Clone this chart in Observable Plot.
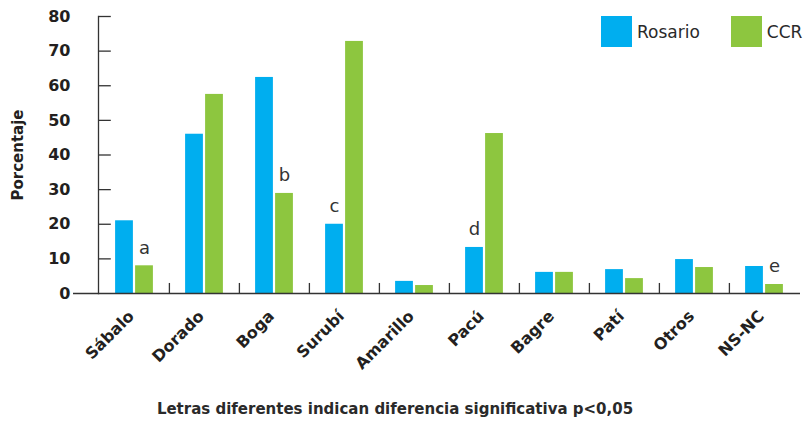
<!DOCTYPE html>
<html>
<head>
<meta charset="utf-8">
<script src="https://cdn.jsdelivr.net/npm/d3@7"></script>
<script src="https://cdn.jsdelivr.net/npm/@observablehq/plot@0.6"></script>
<style>
  body { margin: 0; background: #fff; font-family: "DejaVu Sans", sans-serif; }
  #wrap { position: relative; width: 806px; height: 421px; }
  #legend { position: absolute; top: 16px; left: 601px; display: flex; align-items: center; font-size: 17px; color: #2a2a2a; }
  .sw { width: 31px; height: 31px; display: inline-block; margin-right: 5px; }
  .item { display: flex; align-items: center; }
  #caption { text-align: center; font-size: 15px; font-weight: bold; color: #2a2a2a; width: 790px; margin-top: 5px; }
</style>
</head>
<body>
<div id="wrap">
  <div id="chart"></div>
  <div id="legend"></div>
  <div id="caption">Letras diferentes indican diferencia significativa p&lt;0,05</div>
</div>
<script>
const categories = ["Sábalo","Dorado","Boga","Surubí","Amarillo","Pacú","Bagre","Patí","Otros","NS-NC"];
const rosario = [21, 46, 62.4, 20, 3.5, 13.3, 6.1, 6.9, 9.8, 7.8];
const ccr = [8, 57.5, 28.9, 72.8, 2.3, 46.2, 6.1, 4.3, 7.5, 2.6];
const series = ["Rosario", "CCR"];
const colors = ["#00AEEF", "#8DC63F"];
const yTicks = [0, 10, 20, 30, 40, 50, 60, 70, 80];
const letterCats = ["Sábalo", "Boga", "Surubí", "Pacú", "NS-NC"];
const letterSeries = ["CCR", "CCR", "Rosario", "Rosario", "CCR"];
const letterText = ["a", "b", "c", "d", "e"];

const data = [];
categories.forEach((c, i) => {
  data.push({category: c, series: "Rosario", value: rosario[i]});
  data.push({category: c, series: "CCR", value: ccr[i]});
});
const letters = letterCats.map((c, i) => {
  const d = data.find(e => e.category === c && e.series === letterSeries[i]);
  return {category: c, series: letterSeries[i], value: d.value, letter: letterText[i]};
});

const W = 806, H = 395, ML = 98, MR = 6, MT = 16, MB = 102;
const step = (W - ML - MR) / categories.length;
const half = step / 2;

const chart = Plot.plot({
  width: W, height: H,
  marginLeft: ML, marginRight: MR, marginTop: MT, marginBottom: MB,
  style: {fontFamily: "DejaVu Sans, sans-serif", color: "#231f20", background: "#fff"},
  x: {domain: categories, padding: 0, axis: null},
  y: {domain: [0, 80], axis: null},
  marks: [
    Plot.barY(data.filter(d => d.series === "Rosario"), {x: "category", y: "value", fill: colors[0], insetLeft: half - 19, insetRight: half + 1}),
    Plot.barY(data.filter(d => d.series === "CCR"), {x: "category", y: "value", fill: colors[1], insetLeft: half + 1, insetRight: half - 19}),
    Plot.text(letters.filter(d => d.series === "Rosario"), {x: "category", y: "value", text: "letter", dx: -10, dy: -12, lineAnchor: "bottom", fontSize: 18, fill: "#333"}),
    Plot.text(letters.filter(d => d.series === "CCR"), {x: "category", y: "value", text: "letter", dx: 10, dy: -12, lineAnchor: "bottom", fontSize: 18, fill: "#333"}),
    Plot.ruleX(categories.slice(1), {x: d => d, dx: -half, y1: 0, y2: 2.9, stroke: "#333", strokeWidth: 1.3}),
    Plot.ruleY([0], {stroke: "#333", strokeWidth: 1.5, insetLeft: -25}),
    Plot.frame({anchor: "left", stroke: "#333", strokeWidth: 1.3}),
    Plot.axisY(yTicks, {tickSize: 0, tickPadding: 28, fontSize: 16, fontWeight: "bold", label: null}),
    Plot.tickY(yTicks.slice(1), {y: d => d, x: () => categories[0], stroke: "#333", strokeWidth: 1.3, insetLeft: 0, insetRight: step - 12}),
    Plot.axisX({tickSize: 0, tickRotate: -45, tickPadding: 20, dx: -3, fontSize: 16, fontWeight: "bold", label: null, textAnchor: "end"}),
    Plot.text(["Porcentaje"], {frameAnchor: "left", textAnchor: "middle", rotate: -90, dx: -80, fontSize: 15, fontWeight: "bold", fill: "#231f20"})
  ]
});
document.getElementById("chart").appendChild(chart);

const legend = document.getElementById("legend");
series.forEach((s, i) => {
  const item = document.createElement("div");
  item.className = "item";
  item.style.marginRight = i === 0 ? "31px" : "0";
  item.innerHTML = `<span class="sw" style="background:${colors[i]}"></span><span>${s}</span>`;
  legend.appendChild(item);
});
</script>
</body>
</html>
